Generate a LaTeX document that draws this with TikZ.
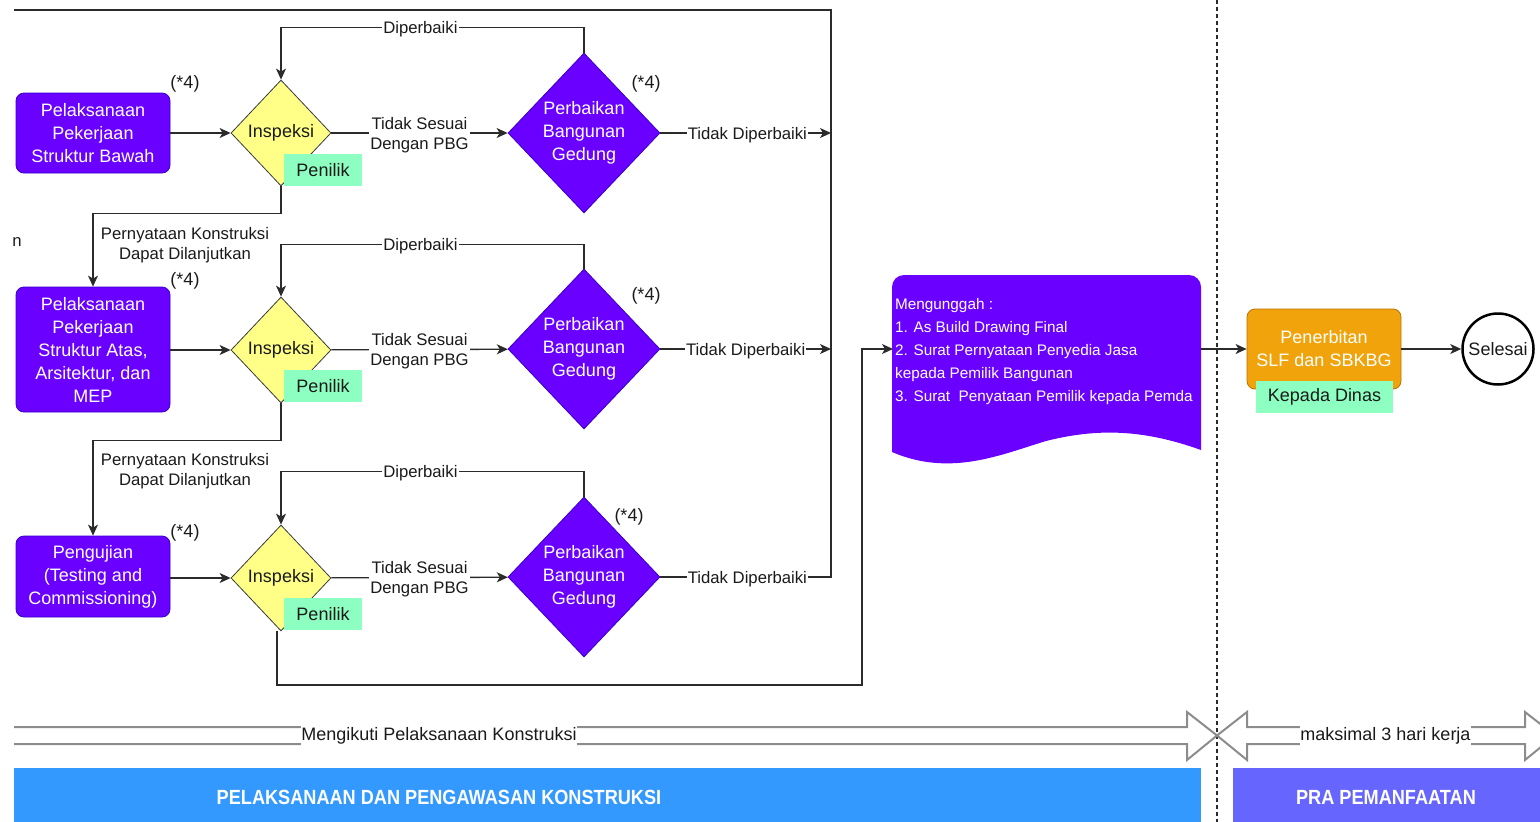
\documentclass[tikz,border=0pt]{standalone}
\usepackage{fontspec}
\setmainfont{Liberation Sans}
\newfontfamily\barfont{Liberation Sans}[FakeStretch=0.885]
\usetikzlibrary{shapes.geometric,arrows.meta}
\definecolor{vio}{HTML}{6A00FF}
\definecolor{viodark}{HTML}{3700CC}
\definecolor{yel}{HTML}{FFFF88}
\definecolor{yeldark}{HTML}{36393D}
\definecolor{mint}{HTML}{8DFFC0}
\definecolor{orng}{HTML}{F0A30A}
\definecolor{orngdark}{HTML}{BD7000}
\definecolor{barblue}{HTML}{3399FF}
\definecolor{barviolet}{HTML}{6666FF}
\definecolor{ink}{HTML}{1A1A1A}
\definecolor{lineg}{HTML}{2B2B2B}
\definecolor{flexg}{HTML}{8C8C8C}
\tikzset{
  procbox/.style={rectangle, rounded corners=8pt, fill=vio, draw=viodark, line width=0.8pt,
    text=white, align=center, minimum width=154pt, inner sep=0pt,
    font=\fontsize{18}{23}\selectfont},
  insp/.style={diamond, fill=yel, draw=yeldark, line width=0.8pt, minimum width=100pt,
    minimum height=106pt, inner sep=0pt, text=ink, font=\fontsize{18}{22}\selectfont},
  perb/.style={diamond, fill=vio, draw=viodark, line width=0.8pt, minimum width=152pt,
    minimum height=160pt, inner sep=0pt, text=white, align=center,
    font=\fontsize{18}{23}\selectfont},
  tag/.style={rectangle, fill=mint, inner sep=0pt, minimum height=32pt, text=ink,
    font=\fontsize{18}{22}\selectfont},
  note/.style={text=ink, inner sep=0pt, font=\fontsize{18}{22}\selectfont},
  elabel/.style={fill=white, text=ink, inner sep=1pt, align=center, yshift=-2pt,
    font=\fontsize{16.7}{20}\selectfont},
  plainlabel/.style={text=ink, inner sep=0pt, align=center,
    font=\fontsize{16.7}{20}\selectfont},
  conn/.style={line width=1.3pt, draw=lineg, -{Stealth[length=11pt,width=10pt,inset=3pt]}},
  wire/.style={line width=1.3pt, draw=lineg},
  flex/.style={line width=2pt, draw=flexg, line join=miter},
  flexlabel/.style={fill=white, text=ink, inner sep=0pt, minimum height=26pt,
    font=\fontsize{18}{22}\selectfont},
  bartext/.style={text=white, inner sep=0pt, font=\barfont\bfseries\fontsize{20.5}{24}\selectfont},
}
\begin{document}
\begin{tikzpicture}[x=1pt,y=-1pt]
\useasboundingbox (0,0) rectangle (1540,822);
\clip (0,0) rectangle (1540,822);

% ---------- row 1 ----------
\node[procbox, minimum height=80pt] (b1) at (93,133) {Pelaksanaan\\Pekerjaan\\Struktur Bawah};
\node[insp] (i1) at (281,133) {Inspeksi};
\node[tag, minimum width=78pt] (t1) at (323,170) {Penilik};
\node[perb] (p1) at (584,133) {Perbaikan\\Bangunan\\Gedung};
\node[note] (n1a) at (185,84) {(*4)};
\node[note] (n1b) at (646,84) {(*4)};

% ---------- row 2 ----------
\node[procbox, minimum height=125pt] (b2) at (93,349.5) {Pelaksanaan\\Pekerjaan\\Struktur Atas,\\Arsitektur, dan\\MEP};
\node[insp] (i2) at (281,350) {Inspeksi};
\node[tag, minimum width=78pt] (t2) at (323,386) {Penilik};
\node[perb] (p2) at (584,349) {Perbaikan\\Bangunan\\Gedung};
\node[note] (n2a) at (185,281) {(*4)};
\node[note] (n2b) at (646,296) {(*4)};

% ---------- row 3 ----------
\node[procbox, minimum height=81pt] (b3) at (93,576.5) {Pengujian\\(Testing and\\Commissioning)};
\node[insp] (i3) at (281,578) {Inspeksi};
\node[tag, minimum width=78pt] (t3) at (323,614) {Penilik};
\node[perb] (p3) at (584,577) {Perbaikan\\Bangunan\\Gedung};
\node[note] (n3a) at (185,533) {(*4)};
\node[note] (n3b) at (629,517) {(*4)};

% fragment of a label at the left edge
\node[plainlabel] (cut) at (17,242) {n};

% ---------- junction points ----------
\coordinate (r1) at (831,133);
\coordinate (r2) at (831,349);
\coordinate (r3) at (831,577);
\coordinate (rtop) at (831,10);
\coordinate (ltop) at (14,10);
\coordinate (bend1) at (862,685);
\coordinate (docin) at (893,349);
\coordinate (docout) at (1201,349);

% ---------- connectors row 1 ----------
\draw[conn] (b1) -- (i1);
\draw[conn] (i1) -- node[elabel]{Tidak Sesuai\\Dengan PBG} (p1);
\draw[conn] (p1.north) -- ++(0,-25) -| node[elabel, pos=0.27]{Diperbaiki} (i1.north);
\draw[conn] (p1) -- node[elabel, pos=0.51]{Tidak Diperbaiki} (r1);
\draw[conn] (i1.south) -- ++(0,27) -| (b2.north);
\node[plainlabel] (l1) at (185,245) {Pernyataan Konstruksi\\Dapat Dilanjutkan};

% ---------- connectors row 2 ----------
\draw[conn] (b2.east |- i2) -- (i2);
\draw[conn] (i2) -- node[elabel]{Tidak Sesuai\\Dengan PBG} (p2);
\draw[conn] (p2.north) -- ++(0,-24) -| node[elabel, pos=0.27]{Diperbaiki} (i2.north);
\draw[conn] (p2) -- node[elabel, pos=0.5]{Tidak Diperbaiki} (r2);
\draw[conn] (i2.south) -- ++(0,37) -| (b3.north);
\node[plainlabel] (l2) at (185,471) {Pernyataan Konstruksi\\Dapat Dilanjutkan};

% ---------- connectors row 3 ----------
\draw[conn] (b3.east |- i3) -- (i3);
\draw[conn] (i3) -- node[elabel]{Tidak Sesuai\\Dengan PBG} (p3);
\draw[conn] (p3.north) -- ++(0,-25) -| node[elabel, pos=0.27]{Diperbaiki} (i3.north);
\draw[wire] (p3) -- node[elabel, pos=0.51]{Tidak Diperbaiki} (r3) -- (rtop) -- (ltop);
\draw[conn] ([xshift=-4pt]i3.south) |- (bend1) |- (docin);

% ---------- upload document ----------
\fill[vio] (892,452) -- (892,287) arc[start angle=180, end angle=90, radius=12pt]
  -- (1189,275) arc[start angle=90, end angle=0, radius=12pt]
  -- (1201,450)
  .. controls (1140,428) and (1094,429) .. (1046,441)
  .. controls (1000,455) and (950,477) .. (892,452) -- cycle;
\node[text=white, anchor=north west, align=left, inner sep=0pt,
  font=\fontsize{15.3}{23}\selectfont] (doc) at (895,298.5)
  {Mengunggah :\\1. As Build Drawing Final\\2. Surat Pernyataan Penyedia Jasa\\kepada Pemilik Bangunan\\3. Surat~ Penyataan Pemilik kepada Pemda};

% ---------- issuing and end ----------
\node[procbox, fill=orng, draw=orngdark, text=white, minimum height=80pt] (pen) at (1324,349) {Penerbitan\\SLF dan SBKBG};
\node[tag, minimum width=137pt] (t4) at (1324.5,397) {Kepada Dinas};
\node[circle, draw=black, line width=2.5pt, fill=white, minimum size=71pt, inner sep=0pt,
  text=ink, font=\fontsize{18}{22}\selectfont] (sel) at (1498,349) {Selesai};
\draw[conn] (docout) -- (pen);
\draw[conn] (pen) -- (sel);

% ---------- phase divider ----------
\draw[line width=1.6pt, draw=lineg, dash pattern=on 4pt off 3pt] (1217,0) -- (1217,822);

% ---------- duration arrows ----------
\draw[flex] (14,727) -- (1187,727) -- (1187,712) -- (1217,735.5) -- (1187,760) -- (1187,744) -- (14,744);
\node[flexlabel] (dur1) at (439,736) {Mengikuti Pelaksanaan Konstruksi};
\draw[flex] (1217,735.5) -- (1247,712) -- (1247,727) -- (1525,727) -- (1525,712) -- (1555,735.5)
  -- (1525,760) -- (1525,744) -- (1247,744) -- (1247,760) -- cycle;
\node[flexlabel] (dur2) at (1385.5,736) {maksimal 3 hari kerja};

% ---------- phase bars ----------
\fill[barblue] (14,768) rectangle (1201,822);
\node[bartext] (ph1) at (439,797) {PELAKSANAAN DAN PENGAWASAN KONSTRUKSI};
\fill[barviolet] (1233,768) rectangle (1540,822);
\node[bartext] (ph2) at (1386,797) {PRA PEMANFAATAN};
\end{tikzpicture}
\end{document}
